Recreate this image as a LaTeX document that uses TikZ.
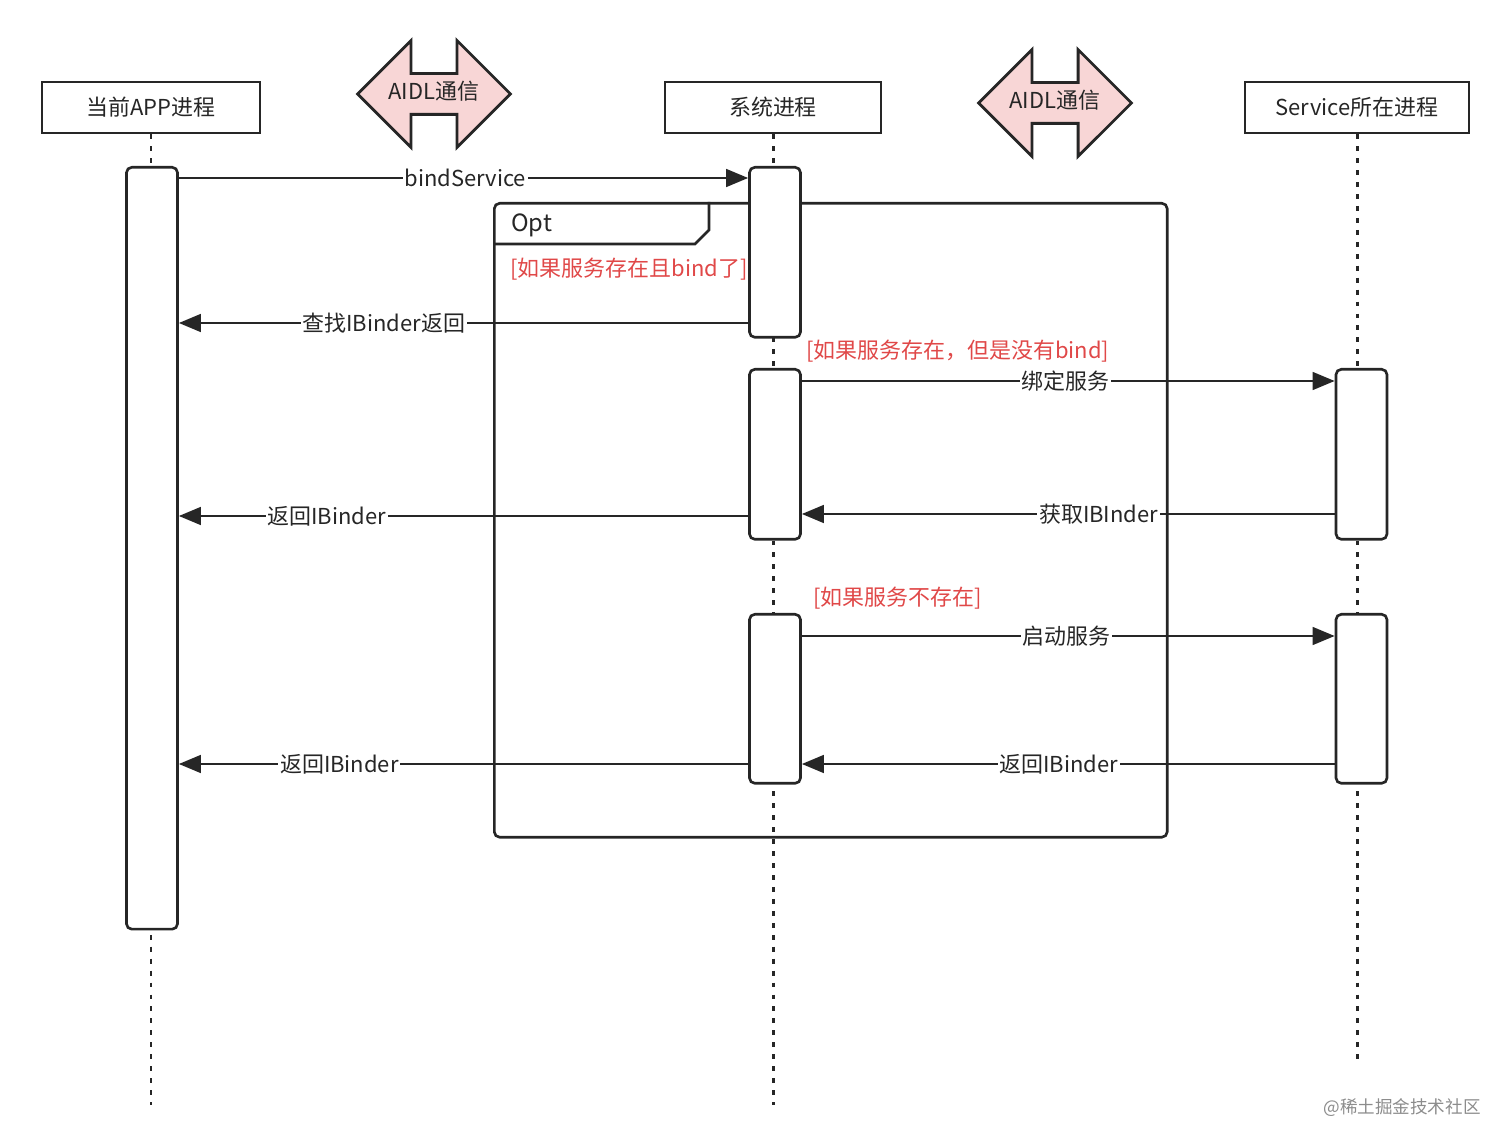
\documentclass[tikz,border=0pt]{standalone}
\usepackage{fontspec}
\setmainfont{Noto Sans CJK SC}
\usetikzlibrary{arrows.meta,shapes.arrows}
\definecolor{ink}{HTML}{262626}
\definecolor{cond}{HTML}{E04848}
\definecolor{aidl}{HTML}{F8D6D6}
\tikzset{line cap=round,line join=round,
    lbl/.style={font=\fontsize{12.5}{15}\selectfont,text=ink},
    head/.style={lbl,draw=ink,line width=1.5pt,minimum width=4.36cm,minimum height=1.02cm,inner sep=0pt},
    life/.style={draw=ink,line width=1.7pt,line cap=butt,dash pattern=on 2.8pt off 4pt},
    act/.style={draw=ink,fill=white,line width=1.5pt,rounded corners=3pt,minimum width=1.02cm,anchor=north},
    msg/.style={draw=ink,line width=1.5pt,-{Triangle[length=12.5pt,width=10pt]}},
    mlbl/.style={lbl,fill=white,inner sep=1pt},
    condtxt/.style={font=\fontsize{12.5}{15}\selectfont,text=cond,anchor=west,inner sep=0pt},
    ipc/.style={lbl,double arrow,draw=ink,fill=aidl,line width=1.6pt,minimum height=3.06cm,
        double arrow head extend=0.66cm,double arrow tip angle=90,text height=0.3cm,text depth=0.08cm,inner ysep=0.19cm,inner xsep=0pt},
}

\begin{document}
\begin{tikzpicture}[x=0.02cm,y=-0.02cm]
    \useasboundingbox (0,0) rectangle (1512,1148);
    % heads of the three processes
    \node[head] (apph) at (151,107.5) {当前APP进程};
    \node[head,minimum width=4.32cm] (sysh) at (773,107.5) {系统进程};
    \node[head,minimum width=4.48cm] (srvh) at (1357,107.5) {Service所在进程};
    \node[ipc] (ipc1) at (434,94) {AIDL通信};
    \node[ipc] (ipc2) at (1055,103) {AIDL通信};
    % opt frame
    \node[draw=ink,line width=1.5pt,rounded corners=3pt,minimum width=13.46cm,minimum height=12.68cm,anchor=north west,inner sep=0pt] (opt) at (493,202) {};
    \draw[ink,line width=1.5pt] (opt.north west) ++(0,42) -- ++(202,0) -- ++(14,-14) -- ++(0,-28);
    \node[lbl,anchor=west,font=\fontsize{13.5}{16}\selectfont] (optl) at (505,225) {Opt};
    % life lines
    \coordinate (appe) at (151,1105);
    \coordinate (syse) at (773,1105);
    \coordinate (srve) at (1357,1060);
    \foreach \h/\e in {apph/appe,sysh/syse,srvh/srve}{\draw[life] (\h.south) -- (\e);}
    % activations
    \node[act,minimum height=15.24cm] (app) at (152,166) {};
    \node[act,minimum height=3.4cm] (sys1) at (775,166) {};
    \node[act,minimum height=3.4cm] (sys2) at (775,368) {};
    \node[act,minimum height=3.38cm] (sys3) at (775,613) {};
    \node[act,minimum height=3.4cm] (srv1) at (1361.5,368) {};
    \node[act,minimum height=3.38cm] (srv2) at (1361.5,613) {};
    % conditions
    \node[condtxt] (c1) at (510,269) {[如果服务存在且bind了]};
    \node[condtxt] (c2) at (806,351) {[如果服务存在，但是没有bind]};
    \node[condtxt] (c3) at (813,598) {[如果服务不存在]};
    % messages
    \coordinate (m1) at (0,178);
    \coordinate (m2) at (0,323);
    \coordinate (m3) at (0,381);
    \coordinate (m4) at (0,514);
    \coordinate (m5) at (0,516);
    \coordinate (m6) at (0,636);
    \coordinate (m7) at (0,764);
    \draw[msg] (app.east |- m1) -- node[mlbl,pos=0.503] (l1) {bindService} (sys1.west |- m1);
    \draw[msg] (sys1.west |- m2) -- node[mlbl,pos=0.64] (l2) {查找IBinder返回} (app.east |- m2);
    \draw[msg] (sys2.east |- m3) -- node[mlbl,pos=0.495] (l3) {绑定服务} (srv1.west |- m3);
    \draw[msg] (srv1.west |- m4) -- node[mlbl,pos=0.443] (l4) {获取IBInder} (sys2.east |- m4);
    \draw[msg] (sys2.west |- m5) -- node[mlbl,pos=0.74] (l5) {返回IBinder} (app.east |- m5);
    \draw[msg] (sys3.east |- m6) -- node[mlbl,pos=0.497] (l6) {启动服务} (srv2.west |- m6);
    \draw[msg] (srv2.west |- m7) -- node[mlbl,pos=0.518] (l7) {返回IBinder} (sys3.east |- m7);
    \draw[msg] (sys3.west |- m7) -- node[mlbl,pos=0.718] (l8) {返回IBinder} (app.east |- m7);
    \node[font=\fontsize{10}{12}\selectfont,text=black!45] (wm) at (1402,1108) {@稀土掘金技术社区};
\end{tikzpicture}
\end{document}
